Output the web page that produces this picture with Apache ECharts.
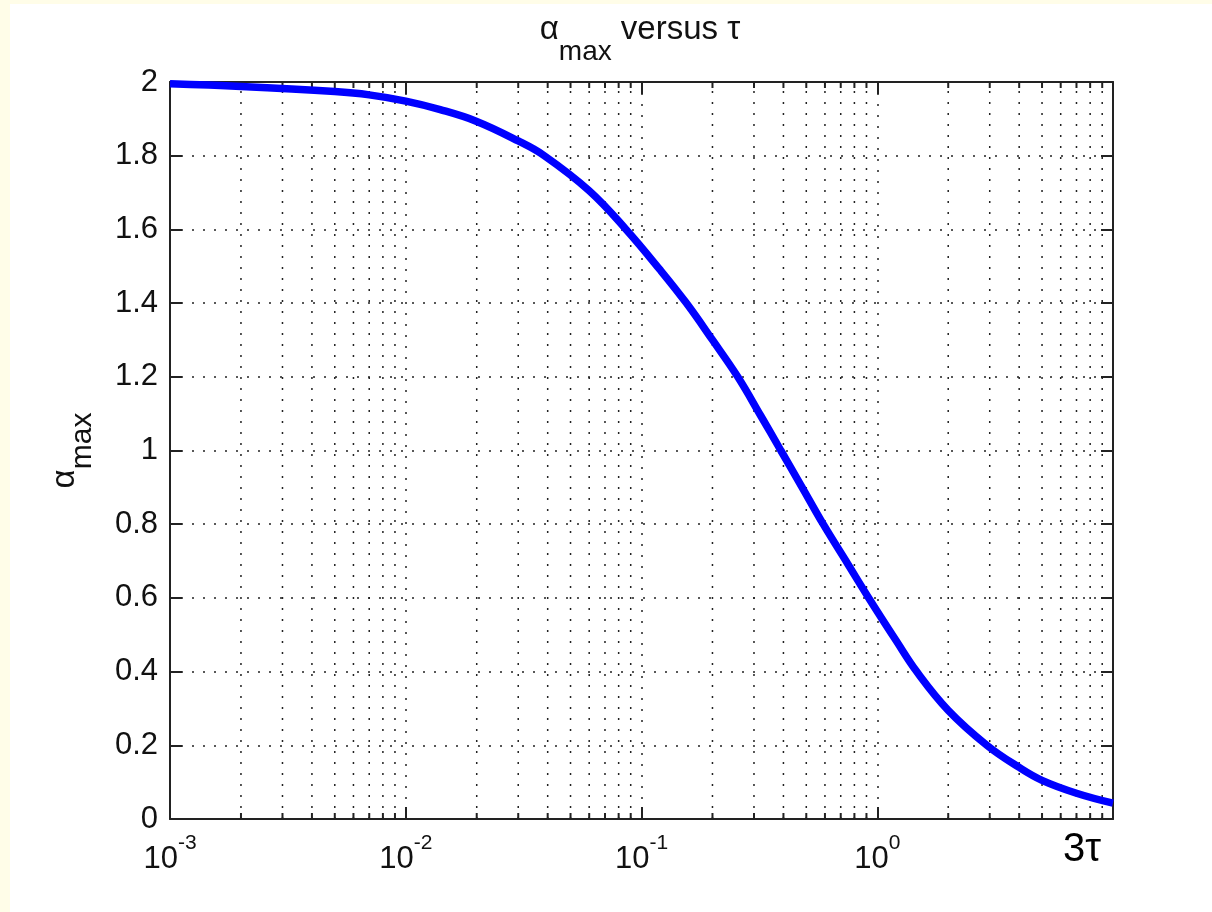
<!DOCTYPE html>
<html>
<head>
<meta charset="utf-8">
<script src="https://cdn.jsdelivr.net/npm/echarts@6/dist/echarts.min.js"></script>
<style>
  html, body { margin: 0; padding: 0; background: #fffde8; }
  #chart { position: absolute; left: 10px; top: 4px; width: 1202px; height: 908px; background: #ffffff; }
</style>
</head>
<body>
<div id="chart"></div>
<script>
// ---- data ----
const tau = [0.001, 0.002, 0.005, 0.007, 0.01, 0.014, 0.02, 0.03, 0.0387, 0.06, 0.086, 0.12, 0.155, 0.2, 0.256,
             0.32, 0.39, 0.48, 0.59, 0.75, 0.92, 1.2, 1.47, 2, 2.92, 4, 5, 7, 10];
const alphaMax = [1.995, 1.988, 1.974, 1.965, 1.948, 1.925, 1.893, 1.84, 1.80, 1.705, 1.60, 1.49, 1.40, 1.30, 1.20,
                  1.095, 1.00, 0.90, 0.80, 0.692, 0.60, 0.485, 0.40, 0.295, 0.20, 0.14, 0.105, 0.07, 0.043];
const minorTicks = [0.002, 0.003, 0.004, 0.005, 0.006, 0.007, 0.008, 0.009,
                    0.02, 0.03, 0.04, 0.05, 0.06, 0.07, 0.08, 0.09,
                    0.2, 0.3, 0.4, 0.5, 0.6, 0.7, 0.8, 0.9,
                    2, 3, 4, 5, 6, 7, 8, 9];
const lastTickLabel = '3τ';
const titleText = '{a|α}{s|max}{a| versus τ}';
const yName = '{a|α}{s|max}';

const FONT = 'Liberation Sans';
const AX = '#222222';
const dotted = { color: '#222222', width: 1.5, type: [2, 9] };

const chart = echarts.init(document.getElementById('chart'), null, { renderer: 'canvas' });

const xy = tau.map((t, i) => [t, alphaMax[i]]);

chart.setOption({
  animation: false,
  backgroundColor: '#ffffff',
  title: {
    text: titleText,
    left: 625,
    top: 4,
    textAlign: 'center',
    textStyle: {
      fontWeight: 'normal',
      rich: {
        a: { fontFamily: FONT, fontSize: 33, fontWeight: 'normal', color: '#111', lineHeight: 40, verticalAlign: 'top' },
        s: { fontFamily: FONT, fontSize: 28, fontWeight: 'normal', color: '#111', lineHeight: 28, verticalAlign: 'top', padding: [25, 0, 0, 0] }
      }
    }
  },
  grid: { left: 160, top: 78, right: 99, bottom: 93, containLabel: false, outerBoundsMode: 'none' },
  xAxis: [
    {
      type: 'log', logBase: 10, min: 0.001, max: 10, position: 'bottom',
      axisLine: { show: true, onZero: false, lineStyle: { color: AX, width: 2 } },
      axisTick: { show: true, inside: true, length: 12, lineStyle: { color: AX, width: 2 } },
      splitLine: { show: true, lineStyle: dotted },
      minorTick: { show: false },
      axisLabel: {
        show: true, margin: 11, showMinLabel: true, showMaxLabel: true, hideOverlap: false,
        formatter: function (v) {
          const e = Math.round(Math.log10(v));
          if (e === 1) return '{big|' + lastTickLabel + '}';
          return '{b|10}{s|' + e + '}';
        },
        rich: {
          b: { fontFamily: FONT, fontSize: 31, color: '#111', lineHeight: 34, verticalAlign: 'top', padding: [14, 0, 0, 0] },
          s: { fontFamily: FONT, fontSize: 21, color: '#111', lineHeight: 21, verticalAlign: 'top', padding: [3, 0, 0, 0] },
          big: { fontFamily: FONT, fontSize: 40, color: '#000', lineHeight: 46, verticalAlign: 'top', padding: [0, 62, 0, 0] }
        }
      }
    },
    {
      type: 'log', logBase: 10, min: 0.001, max: 10, position: 'top',
      axisLine: { show: true, onZero: false, lineStyle: { color: AX, width: 2 } },
      axisTick: { show: true, inside: true, length: 12, lineStyle: { color: AX, width: 2 } },
      splitLine: { show: false },
      axisLabel: { show: false }
    }
  ],
  yAxis: [
    {
      type: 'value', min: 0, max: 2, interval: 0.2, position: 'left',
      name: yName, nameLocation: 'middle', nameGap: 68, nameRotate: 90,
      nameTextStyle: {
        rich: {
          a: { fontFamily: FONT, fontSize: 33, color: '#111', lineHeight: 54, verticalAlign: 'top' },
          s: { fontFamily: FONT, fontSize: 30, color: '#111', lineHeight: 30, verticalAlign: 'top', padding: [20, 0, 0, 0] }
        }
      },
      axisLine: { show: true, onZero: false, lineStyle: { color: AX, width: 2 } },
      axisTick: { show: true, inside: true, length: 12, lineStyle: { color: AX, width: 2 } },
      splitLine: { show: true, lineStyle: dotted },
      axisLabel: { show: true, margin: 12, fontFamily: FONT, fontSize: 31, color: '#111', showMinLabel: true, showMaxLabel: true }
    },
    {
      type: 'value', min: 0, max: 2, interval: 0.2, position: 'right',
      axisLine: { show: true, onZero: false, lineStyle: { color: AX, width: 2 } },
      axisTick: { show: true, inside: true, length: 12, lineStyle: { color: AX, width: 2 } },
      splitLine: { show: false },
      axisLabel: { show: false }
    }
  ],
  series: [
    {
      type: 'custom',
      xAxisIndex: 0, yAxisIndex: 0,
      silent: true, z: 1, clip: false,
      data: minorTicks.map(v => [v, 1]),
      renderItem: function (params, api) {
        const x = api.coord([api.value(0), 1])[0];
        const cs = params.coordSys;
        const top = cs.y, bottom = cs.y + cs.height;
        return {
          type: 'group',
          children: [
            { type: 'line', shape: { x1: x, y1: bottom, x2: x, y2: top }, style: { stroke: '#222222', lineWidth: 1.5, lineDash: [2, 9] } },
            { type: 'line', shape: { x1: x, y1: bottom, x2: x, y2: bottom - 6 }, style: { stroke: AX, lineWidth: 2 } },
            { type: 'line', shape: { x1: x, y1: top, x2: x, y2: top + 6 }, style: { stroke: AX, lineWidth: 2 } }
          ]
        };
      }
    },
    {
      type: 'line',
      xAxisIndex: 0, yAxisIndex: 0,
      data: xy,
      showSymbol: false, symbol: 'none',
      smooth: 0.4,
      clip: false, z: 5,
      lineStyle: { color: '#0000ff', width: 7.5 }
    }
  ]
});
</script>
</body>
</html>
